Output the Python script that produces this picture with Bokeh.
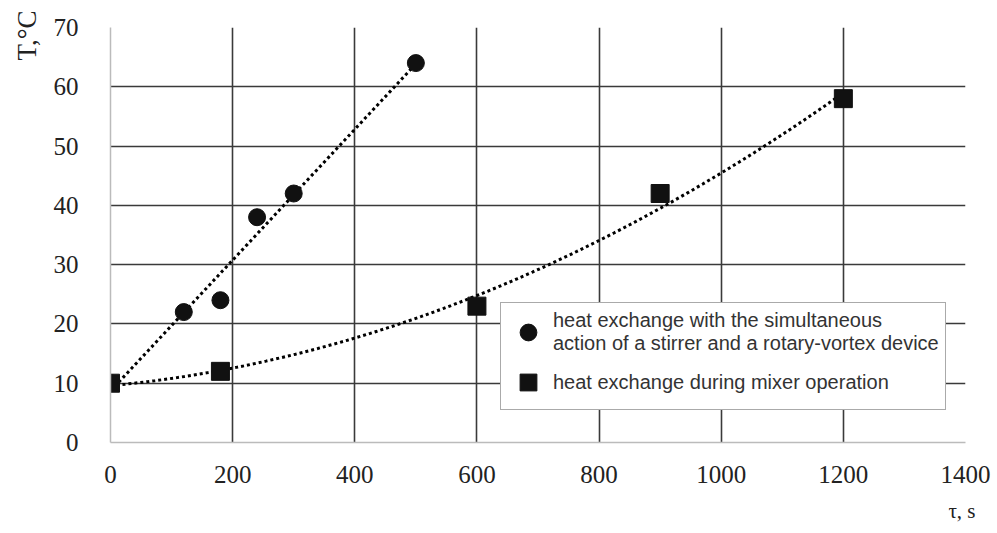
import numpy as np
from bokeh.plotting import figure
from bokeh.models import Legend, LegendItem, Title, FixedTicker, Range1d
from bokeh.embed import file_html
from bokeh.resources import INLINE

# data
x_combined = [0, 120, 180, 240, 300, 500]
t_combined = [10, 22, 24, 38, 42, 64]
x_mixer = [0, 180, 600, 900, 1200]
t_mixer = [10, 12, 23, 42, 58]
x_ticks = [0, 200, 400, 600, 800, 1000, 1200, 1400]
y_ticks = [0, 10, 20, 30, 40, 50, 60, 70]
label_combined = "heat exchange with the simultaneous\naction of a stirrer and a rotary-vortex device"
label_mixer = "heat exchange during mixer operation"

p = figure(width=997, height=533, output_backend="svg", toolbar_location=None,
           x_range=Range1d(0, 1400), y_range=Range1d(0, 70),
           min_border_left=110, min_border_right=32, min_border_top=27, min_border_bottom=89)
p.outline_line_color = None
p.background_fill_color = "white"

for ax, ticks in ((p.xaxis[0], x_ticks), (p.yaxis[0], y_ticks)):
    ax.ticker = FixedTicker(ticks=ticks)
    ax.major_tick_line_color = None
    ax.minor_tick_line_color = None
    ax.axis_line_color = "#bbbbbb"
    ax.axis_line_width = 1.5
    ax.major_label_text_font = "Liberation Serif"
    ax.major_label_text_font_size = "25px"
    ax.major_label_text_color = "#222222"
p.xaxis.major_label_standoff = 17
p.yaxis.major_label_standoff = 26

p.xgrid.ticker = FixedTicker(ticks=x_ticks[1:])
p.ygrid.ticker = FixedTicker(ticks=y_ticks[1:])
p.grid.grid_line_color = "#3a3a3a"
p.grid.grid_line_width = 1.6

# trend lines
c1 = np.polyfit(x_combined, t_combined, 1)
xs1 = np.linspace(0, max(x_combined), 50)
p.line(xs1, np.polyval(c1, xs1), line_color="black", line_width=3, line_dash="3 3")
c2 = np.polyfit(x_mixer, t_mixer, 2)
xs2 = np.linspace(0, max(x_mixer), 100)
p.line(xs2, np.polyval(c2, xs2), line_color="black", line_width=3, line_dash="3 3")

r1 = p.scatter(x_combined, t_combined, marker="circle", size=17, color="#111111")
r2 = p.scatter(x_mixer, t_mixer, marker="square", size=18, color="#111111")

legend = Legend(items=[LegendItem(label=label_combined, renderers=[r1]),
                       LegendItem(label=label_mixer, renderers=[r2])],
                location=(390, 32), label_text_font="Liberation Sans",
                label_text_font_size="20px", label_text_color="#333333",
                border_line_color="#555555", border_line_width=1.5,
                background_fill_alpha=1.0, padding=6, spacing=6,
                glyph_width=42, glyph_height=42, label_standoff=4)
p.add_layout(legend, "center")

p.add_layout(Title(text="T,°C", align="right", offset=-17, standoff=18,
                   text_font="Liberation Serif", text_font_size="27px",
                   text_font_style="normal", text_color="#222222"), "left")
p.add_layout(Title(text="τ, s", align="right", offset=-10, standoff=22,
                   text_font="Liberation Serif", text_font_size="21px",
                   text_font_style="normal", text_color="#222222"), "below")

open("out.html", "w").write(file_html(p, INLINE))
